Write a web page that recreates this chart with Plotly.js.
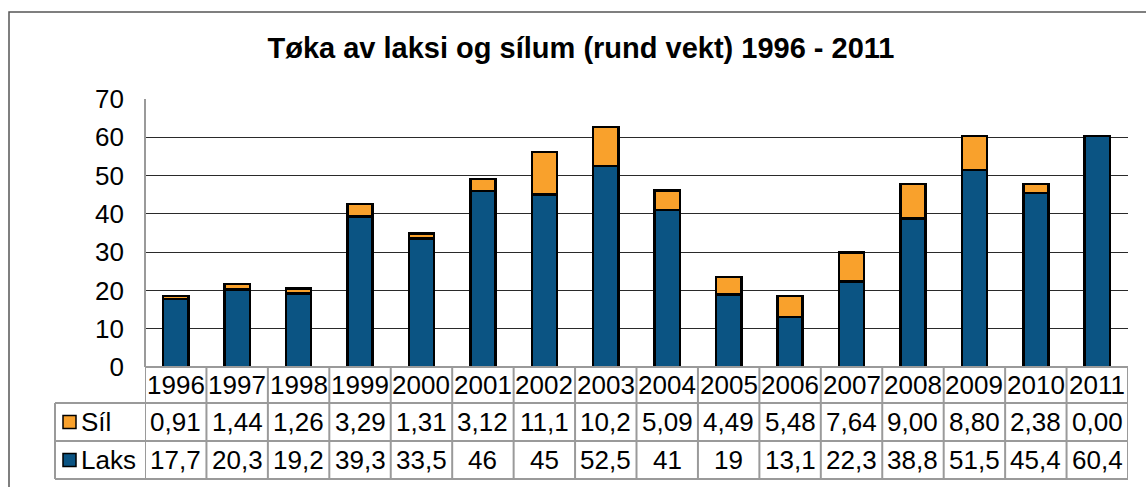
<!DOCTYPE html>
<html>
<head>
<meta charset="utf-8">
<script src="https://cdn.plot.ly/plotly-3.0.1.min.js"></script>
<style>html,body{margin:0;padding:0;background:#fff;}#chart{width:1146px;height:487px;}</style>
</head>
<body>
<div id="chart"></div>
<script>
const years = ["1996","1997","1998","1999","2000","2001","2002","2003","2004","2005","2006","2007","2008","2009","2010","2011"];
const silValues = [0.91,1.44,1.26,3.29,1.31,3.12,11.1,10.2,5.09,4.49,5.48,7.64,9.00,8.80,2.38,0.00];
const laksValues = [17.7,20.3,19.2,39.3,33.5,46,45,52.5,41,19,13.1,22.3,38.8,51.5,45.4,60.4];
const silLabels = ["0,91","1,44","1,26","3,29","1,31","3,12","11,1","10,2","5,09","4,49","5,48","7,64","9,00","8,80","2,38","0,00"];
const laksLabels = ["17,7","20,3","19,2","39,3","33,5","46","45","52,5","41","19","13,1","22,3","38,8","51,5","45,4","60,4"];
const seriesNames = ["Síl","Laks"];
const yTicks = [0,10,20,30,40,50,60,70];

const W = 1146, H = 487;
const mL = 145, mR = 18, mT = 99, mB = 120;
const plotW = W - mL - mR, plotH = H - mT - mB;
const px = p => (p - mL) / plotW;          // pixel x -> paper x
const py = p => (H - mB - p) / plotH;      // pixel y -> paper y

const ORANGE = "#F9A12C", BLUE = "#0B5483";
const FONT = "Liberation Sans, Arial, sans-serif";
const idx = years.map((_, i) => i);

const traces = [
  {type:"bar", name:seriesNames[1], x:idx, y:laksValues, marker:{color:BLUE, line:{color:"#000", width:2.5}}, hoverinfo:"y"},
  {type:"bar", name:seriesNames[0], x:idx, y:silValues, marker:{color:ORANGE, line:{color:"#000", width:2.5}}, hoverinfo:"y"}
];

const rowHeader = py(385), rowSil = py(422), rowLaks = py(460);
const yH = py(403), yS = py(441), yL = py(479);
const leftLeg = px(55);
const TC = "#9a9a9a";

const shapes = [];
// outer frame
shapes.push({type:"rect", xref:"paper", yref:"paper", x0:px(9), x1:1.2, y0:-0.6, y1:py(12), line:{color:"#555", width:1.5}, layer:"below"});
// left axis line
shapes.push({type:"line", xref:"paper", yref:"paper", x0:0, x1:0, y0:0, y1:1, line:{color:TC, width:2}});
// table horizontal lines
shapes.push({type:"line", xref:"paper", yref:"paper", x0:0, x1:1, y0:0, y1:0, line:{color:TC, width:2}});
[yH, yS, yL].forEach(y => shapes.push({type:"line", xref:"paper", yref:"paper", x0:leftLeg, x1:1, y0:y, y1:y, line:{color:TC, width:2}}));
// table vertical lines
for (let i = 0; i <= years.length; i++) {
  shapes.push({type:"line", xref:"x", yref:"paper", x0:i-0.5, x1:i-0.5, y0:0, y1:yL, line:{color:TC, width:2}});
}
shapes.push({type:"line", xref:"paper", yref:"paper", x0:leftLeg, x1:leftLeg, y0:yH, y1:yL, line:{color:TC, width:2}});
// legend keys
[[rowSil, ORANGE],[rowLaks, BLUE]].forEach(([y, c]) => {
  shapes.push({type:"rect", xref:"paper", yref:"paper", x0:px(63), x1:px(76), y0:y - 6.5/plotH, y1:y + 6.5/plotH, fillcolor:c, line:{color:"#000", width:1.5}});
});

const annotations = [];
const tf = {family:FONT, size:26, color:"#000"};
years.forEach((yr, i) => {
  annotations.push({xref:"x", yref:"paper", x:i, y:rowHeader, text:yr, showarrow:false, font:tf, xanchor:"center", yanchor:"middle"});
  annotations.push({xref:"x", yref:"paper", x:i, y:rowSil, text:silLabels[i], showarrow:false, font:tf, xanchor:"center", yanchor:"middle"});
  annotations.push({xref:"x", yref:"paper", x:i, y:rowLaks, text:laksLabels[i], showarrow:false, font:tf, xanchor:"center", yanchor:"middle"});
});
annotations.push({xref:"paper", yref:"paper", x:px(79), y:rowSil, text:seriesNames[0], showarrow:false, font:tf, xanchor:"left", yanchor:"middle"});
annotations.push({xref:"paper", yref:"paper", x:px(79), y:rowLaks, text:seriesNames[1], showarrow:false, font:tf, xanchor:"left", yanchor:"middle"});

const layout = {
  width:W, height:H,
  margin:{l:mL, r:mR, t:mT, b:mB, pad:0},
  paper_bgcolor:"#fff", plot_bgcolor:"#fff",
  showlegend:false,
  barmode:"stack",
  bargap:0.59,
  title:{text:"<b>Tøka av laksi og sílum (rund vekt) 1996 - 2011</b>", font:{family:FONT, size:29, color:"#000"}, x:581/W, xanchor:"center", y:1-48/H, yanchor:"middle"},
  xaxis:{type:"linear", range:[-0.5, years.length-0.5], showticklabels:false, showgrid:false, zeroline:false, showline:false, ticks:""},
  yaxis:{range:[0,70], tickvals:yTicks, ticktext:yTicks.map(String), showgrid:true, gridcolor:"#2a2a2a", gridwidth:1, zeroline:false, showline:false, ticks:"", ticklabelstandoff:20, tickfont:{family:FONT, size:26, color:"#000"}},
  shapes:shapes,
  annotations:annotations
};

Plotly.newPlot("chart", traces, layout, {staticPlot:true, displayModeBar:false});
</script>
</body>
</html>
